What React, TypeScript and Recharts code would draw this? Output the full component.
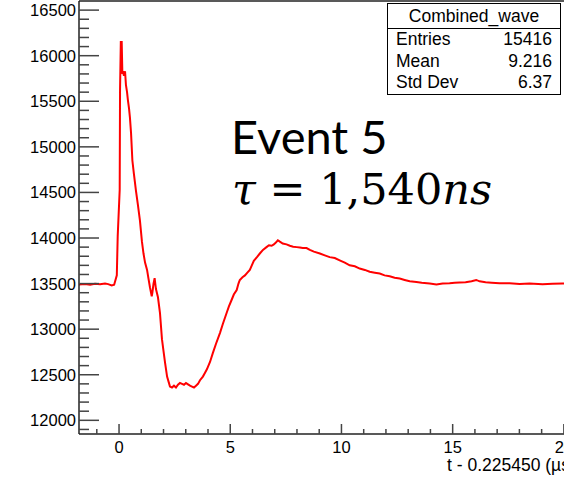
import { Line, LineChart, ReferenceLine, XAxis, YAxis } from "recharts";

// waveform: time (µs, shifted) and amplitude
const T_US = [
  -1.8, -1.53, -1.3, -1.08, -0.85, -0.63, -0.49, -0.33, -0.22, -0.1, -0.06, 0.03, 0.045, 0.08, 0.12, 0.15,
  0.18, 0.22, 0.27, 0.31, 0.36, 0.4, 0.45, 0.49, 0.54, 0.6, 0.67, 0.76, 0.85, 0.94, 1.03, 1.1, 1.17, 1.26,
  1.32, 1.39, 1.47, 1.5, 1.55, 1.6, 1.66, 1.75, 1.84, 1.93, 2.0, 2.07, 2.16, 2.22, 2.29, 2.38, 2.47, 2.56,
  2.65, 2.74, 2.83, 2.92, 3.01, 3.1, 3.19, 3.28, 3.37, 3.46, 3.55, 3.64, 3.77, 3.86, 3.95, 4.09, 4.22, 4.36,
  4.54, 4.67, 4.84, 4.94, 5.06, 5.16, 5.29, 5.37, 5.43, 5.55, 5.66, 5.77, 5.88, 5.97, 6.06, 6.2, 6.33, 6.47,
  6.63, 6.74, 6.86, 6.96, 7.05, 7.14, 7.23, 7.36, 7.53, 7.68, 7.83, 7.99, 8.13, 8.26, 8.43, 8.58, 8.76, 9.03,
  9.25, 9.47, 9.7, 9.92, 10.15, 10.37, 10.6, 10.82, 11.05, 11.27, 11.5, 11.72, 11.94, 12.17, 12.39, 12.62,
  12.84, 13.07, 13.37, 13.61, 13.97, 14.27, 14.55, 14.86, 15.09, 15.31, 15.58, 15.85, 16.06, 16.21, 16.48,
  16.75, 17.11, 17.56, 18.01, 18.46, 19.04, 19.49, 19.94, 20.3,
];
const AMPLITUDE = [
  13490, 13495, 13488, 13497, 13492, 13500, 13494, 13480, 13488, 13590, 14020, 14530, 15620, 16150, 16150, 15800,
  15830, 15780, 15830, 15680, 15600, 15510, 15420, 15320, 15150, 14850, 14700, 14520, 14360, 14190, 13960, 13830, 13730, 13650,
  13560, 13460, 13360, 13400, 13500, 13560, 13440, 13350, 13180, 12890, 12760, 12630, 12480, 12430, 12370, 12360, 12380, 12360,
  12390, 12410, 12400, 12390, 12410, 12395, 12380, 12370, 12360, 12380, 12400, 12440, 12480, 12520, 12560, 12640, 12740, 12840,
  12960, 13060, 13180, 13250, 13320, 13380, 13430, 13500, 13540, 13570, 13590, 13620, 13650, 13700, 13750, 13790, 13830, 13870,
  13900, 13920, 13915, 13930, 13950, 13975, 13960, 13940, 13930, 13915, 13905, 13900, 13895, 13890, 13890, 13870, 13850, 13830,
  13810, 13790, 13780, 13755, 13730, 13700, 13690, 13665, 13650, 13630, 13620, 13610, 13590, 13580, 13565, 13555,
  13540, 13525, 13518, 13510, 13500, 13490, 13500, 13505, 13510, 13512, 13515, 13525, 13540, 13525, 13515,
  13510, 13505, 13505, 13495, 13500, 13492, 13498, 13502, 13500,
];

const X_TICKS = [-1, 0, 1, 2, 3, 4, 5, 6, 7, 8, 9, 10, 11, 12, 13, 14, 15, 16, 17, 18, 19, 20];
const Y_TICKS = [
  11900, 12000, 12100, 12200, 12300, 12400, 12500, 12600, 12700, 12800, 12900, 13000, 13100, 13200, 13300,
  13400, 13500, 13600, 13700, 13800, 13900, 14000, 14100, 14200, 14300, 14400, 14500, 14600, 14700, 14800,
  14900, 15000, 15100, 15200, 15300, 15400, 15500, 15600, 15700, 15800, 15900, 16000, 16100, 16200, 16300,
  16400, 16500,
];
const STATS_TITLE = "Combined_wave";
const STAT_NAMES = ["Entries", "Mean", "Std Dev"];
const STAT_VALUES = ["15416", "9.216", "6.37"];

const data = T_US.map((t, i) => ({ t, v: AMPLITUDE[i] }));

const PLOT_LEFT = 79;
const PLOT_BOTTOM = 434;
const FONT = "'Liberation Sans', Arial, sans-serif";
const AXIS_COLOR = "#222";

function YTick(props: any) {
  const { y, payload } = props;
  const major = payload.value % 500 === 0;
  return (
    <g>
      <line x1={PLOT_LEFT} x2={PLOT_LEFT + (major ? 20 : 10)} y1={y} y2={y} stroke="#444" strokeWidth={1.5} />
      {major && (
        <text x={PLOT_LEFT - 3} y={y + 6} textAnchor="end" fontSize={16.5} fontFamily={FONT} fill="#000">
          {payload.value}
        </text>
      )}
    </g>
  );
}

function XTick(props: any) {
  const { x, payload } = props;
  const major = payload.value % 5 === 0;
  return (
    <g>
      <line x1={x} x2={x} y1={PLOT_BOTTOM} y2={PLOT_BOTTOM - (major ? 10 : 5)} stroke="#444" strokeWidth={1.5} />
      {major && (
        <text x={x} y={PLOT_BOTTOM + 19} textAnchor="middle" fontSize={16.5} fontFamily={FONT} fill="#000">
          {payload.value}
        </text>
      )}
    </g>
  );
}

export default function App() {
  return (
    <div
      style={{
        position: "absolute",
        left: 0,
        top: 0,
        width: 564,
        height: 483,
        overflow: "hidden",
        background: "#fff",
      }}
    >
      <LineChart width={600} height={483} data={data} margin={{ top: 1, right: 25, bottom: 0, left: 0 }}>
        <XAxis
          dataKey="t"
          type="number"
          domain={[-1.8, 20.5]}
          ticks={X_TICKS}
          interval={0}
          height={49}
          tickLine={false}
          tick={<XTick />}
          stroke={AXIS_COLOR}
          strokeWidth={1.5}
        />
        <YAxis
          type="number"
          domain={[11850, 16600]}
          ticks={Y_TICKS}
          interval={0}
          width={PLOT_LEFT}
          tickLine={false}
          tick={<YTick />}
          stroke={AXIS_COLOR}
          strokeWidth={1.5}
        />
        <ReferenceLine y={16600} stroke={AXIS_COLOR} strokeWidth={1.5} />
        <Line
          dataKey="v"
          type="linear"
          stroke="#ff0000"
          strokeWidth={2}
          dot={false}
          isAnimationActive={false}
        />
      </LineChart>

      <div
        style={{
          position: "absolute",
          left: 447,
          top: 457,
          fontFamily: FONT,
          fontSize: 17.5,
          lineHeight: 1,
          whiteSpace: "nowrap",
        }}
      >
        t - 0.225450 (µs)
      </div>

      <div
        style={{
          position: "absolute",
          left: 387,
          top: 3,
          width: 174,
          height: 92,
          border: "1px solid #000",
          background: "#fff",
          fontFamily: FONT,
          fontSize: 17.5,
          boxSizing: "border-box",
        }}
      >
        <div style={{ height: 24, borderBottom: "1px solid #000", textAlign: "center", lineHeight: "24px" }}>
          {STATS_TITLE}
        </div>
        {STAT_NAMES.map((name, i) => (
          <div
            key={name}
            style={{ display: "flex", justifyContent: "space-between", padding: "0 8px", height: 21.5, lineHeight: "21.5px" }}
          >
            <span>{name}</span>
            <span>{STAT_VALUES[i]}</span>
          </div>
        ))}
      </div>

      <div
        style={{
          position: "absolute",
          left: 231,
          top: 113,
          fontFamily: "Lato, 'Open Sans', sans-serif",
          fontSize: 47,
          lineHeight: 1,
          whiteSpace: "nowrap",
          color: "#000",
        }}
      >
        Event 5
      </div>
      <div
        style={{
          position: "absolute",
          left: 232,
          top: 168,
          fontFamily: "'DejaVu Serif', 'Liberation Serif', serif",
          fontSize: 43,
          lineHeight: 1,
          whiteSpace: "nowrap",
          color: "#000",
        }}
      >
        <i>τ</i> = 1,540<i>ns</i>
      </div>
    </div>
  );
}
